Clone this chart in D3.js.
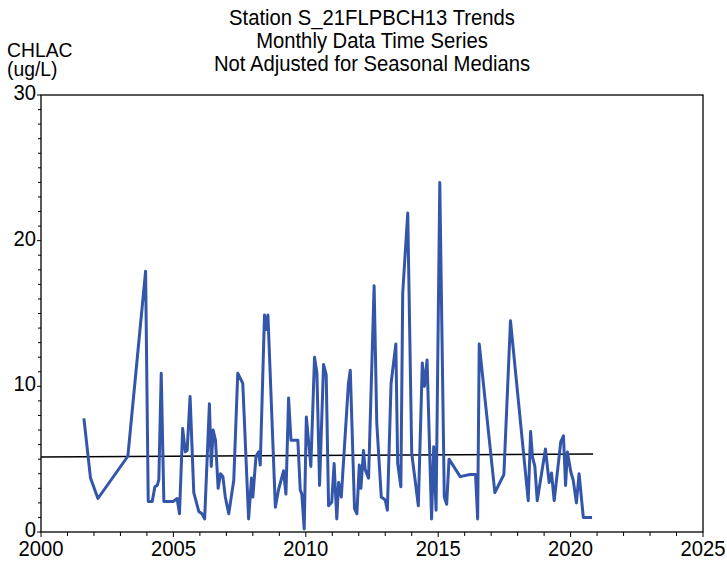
<!DOCTYPE html>
<html>
<head>
<meta charset="utf-8">
<script src="https://cdn.jsdelivr.net/npm/d3@7"></script>
<style>
  body { margin: 0; background: #fff; }
  text { font-family: "Liberation Sans", Arial, sans-serif; fill: #000; }
</style>
</head>
<body>
<div id="chart"></div>
<script>
// sample dates (decimal years) and CHLAC values (ug/L)
const sampleYears = [
  2001.62, 2001.87, 2002.15, 2003.28, 2003.95, 2004.05, 2004.2, 2004.3, 2004.39, 2004.45,
  2004.54, 2004.64, 2004.89, 2005.0, 2005.14, 2005.23, 2005.35, 2005.45, 2005.52, 2005.63,
  2005.77, 2005.96, 2006.08, 2006.18, 2006.36, 2006.43, 2006.5, 2006.59, 2006.69, 2006.78,
  2006.87, 2006.96, 2007.09, 2007.28, 2007.43, 2007.62, 2007.84, 2007.95, 2008.0, 2008.12,
  2008.22, 2008.28, 2008.44, 2008.51, 2008.57, 2008.85, 2008.97, 2009.16, 2009.25, 2009.35,
  2009.44, 2009.7, 2009.79, 2009.85, 2009.94, 2010.02, 2010.19, 2010.33, 2010.42, 2010.52,
  2010.67, 2010.77, 2010.86, 2010.98, 2011.07, 2011.17, 2011.24, 2011.34, 2011.61, 2011.68,
  2011.84, 2011.93, 2012.02, 2012.08, 2012.18, 2012.24, 2012.37, 2012.58, 2012.68, 2012.85,
  2013.0, 2013.08, 2013.22, 2013.4, 2013.47, 2013.59, 2013.66, 2013.85, 2014.0, 2014.25,
  2014.4, 2014.48, 2014.58, 2014.75, 2014.83, 2014.92, 2015.06, 2015.23, 2015.32, 2015.41,
  2015.83, 2016.2, 2016.41, 2016.49, 2016.55, 2017.14, 2017.48, 2017.73, 2018.4, 2018.49,
  2018.56, 2018.65, 2018.74, 2019.05, 2019.19, 2019.28, 2019.38, 2019.63, 2019.73, 2019.81,
  2019.88, 2020.01, 2020.1, 2020.22, 2020.32, 2020.48, 2020.81
];
const chlacValues = [
  7.8, 3.7, 2.3, 5.2, 17.9, 2.1, 2.1, 3.1, 3.2, 3.6,
  10.9, 2.1, 2.1, 2.1, 2.3, 1.25, 7.1, 5.5, 5.6, 9.3,
  2.7, 1.4, 1.25, 0.9, 8.8, 4.5, 7.0, 6.3, 3.0, 4.0,
  3.8, 2.4, 1.25, 3.55, 10.9, 10.2, 0.9, 3.7, 2.4, 5.2,
  5.5, 4.6, 14.9, 13.9, 14.9, 1.7, 2.9, 4.2, 2.6, 9.2,
  6.3, 6.3, 2.9, 2.6, 0.2, 7.9, 4.5, 12.0, 10.9, 3.2,
  11.5, 10.8, 1.8, 2.05, 4.7, 0.9, 3.4, 2.4, 10.2, 11.1,
  1.6, 1.25, 4.6, 3.0, 5.6, 4.3, 3.7, 16.9, 7.5, 2.4,
  2.2, 1.5, 10.2, 12.9, 4.7, 3.1, 16.4, 21.9, 5.4, 1.8,
  11.6, 10.0, 11.8, 0.9, 5.85, 1.5, 24.0, 2.4, 1.9, 5.0,
  3.8, 3.95, 3.95, 0.9, 12.9, 2.7, 3.95, 14.5, 2.15, 6.9,
  5.15, 4.5, 2.15, 5.7, 3.4, 4.05, 2.15, 6.2, 6.6, 3.2,
  5.5, 4.1, 3.55, 2.0, 4.0, 1.0, 1.0
];

// trend line end points
const trendYears = [2000, 2020.85];
const trendValues = [5.15, 5.35];

const titleLines = [
  "Station S_21FLPBCH13 Trends",
  "Monthly Data Time Series",
  "Not Adjusted for Seasonal Medians"
];
const yLabelLines = ["CHLAC", "(ug/L)"];
const xTickYears = [2000, 2005, 2010, 2015, 2020, 2025];
const yTickValues = [0, 10, 20, 30];

const width = 727, height = 562;
const margin = { top: 95, right: 24, bottom: 30, left: 41 };
const innerW = width - margin.left - margin.right;
const innerH = height - margin.top - margin.bottom;

const svg = d3.select("#chart").append("svg")
  .attr("width", width)
  .attr("height", height);

const x = d3.scaleLinear().domain([2000, 2025]).range([margin.left, margin.left + innerW]);
const y = d3.scaleLinear().domain([0, 30]).range([margin.top + innerH, margin.top]);

// plot frame
svg.append("rect")
  .attr("x", margin.left)
  .attr("y", margin.top)
  .attr("width", innerW)
  .attr("height", innerH)
  .attr("fill", "none")
  .attr("stroke", "#000")
  .attr("stroke-width", 1.3);

// x axis: yearly minor ticks, labels every 5 years
const xAxis = svg.append("g").attr("transform", `translate(0,${margin.top + innerH})`);
xAxis.selectAll("line")
  .data(d3.range(2000, 2026))
  .enter()
  .append("line")
  .attr("x1", (d) => x(d))
  .attr("x2", (d) => x(d))
  .attr("y1", 0)
  .attr("y2", (d) => (d % 5 === 0 ? 5 : 4))
  .attr("stroke", "#000")
  .attr("stroke-width", 1);
xAxis.selectAll("text")
  .data(xTickYears)
  .enter()
  .append("text")
  .attr("class", "lbl")
  .attr("x", (d) => x(d))
  .attr("y", 24)
  .attr("text-anchor", "middle")
  .style("font-size", "22px")
  .text((d) => d);

// y axis: unit minor ticks, labels every 10
const yAxis = svg.append("g").attr("transform", `translate(${margin.left},0)`);
yAxis.selectAll("line")
  .data(d3.range(0, 31))
  .enter()
  .append("line")
  .attr("x1", (d) => (d % 10 === 0 ? -4 : -3))
  .attr("x2", 0)
  .attr("y1", (d) => y(d))
  .attr("y2", (d) => y(d))
  .attr("stroke", "#000")
  .attr("stroke-width", 1);
yAxis.selectAll("text")
  .data(yTickValues)
  .enter()
  .append("text")
  .attr("class", "lbl")
  .attr("x", -5)
  .attr("y", (d) => y(d) + 5)
  .attr("text-anchor", "end")
  .style("font-size", "22px")
  .text((d) => d);

// trend line
svg.append("line")
  .attr("x1", x(trendYears[0]))
  .attr("y1", y(trendValues[0]))
  .attr("x2", x(trendYears[1]))
  .attr("y2", y(trendValues[1]))
  .attr("stroke", "#000")
  .attr("stroke-width", 1.5);

// data series
const line = d3.line()
  .x((d, i) => x(sampleYears[i]))
  .y((d) => y(d));
svg.append("path")
  .datum(chlacValues)
  .attr("d", line)
  .attr("fill", "none")
  .attr("stroke", "#3355aa")
  .attr("stroke-width", 3)
  .attr("stroke-linejoin", "round");

// titles
svg.selectAll("text.title")
  .data(titleLines)
  .enter()
  .append("text")
  .attr("class", "lbl title")
  .attr("x", margin.left + innerW / 2)
  .attr("y", (d, i) => 25 + i * 23)
  .attr("text-anchor", "middle")
  .style("font-size", "22px")
  .text((d) => d);

svg.selectAll("text.ylab")
  .data(yLabelLines)
  .enter()
  .append("text")
  .attr("class", "lbl ylab")
  .attr("x", 7)
  .attr("y", (d, i) => 57 + i * 19)
  .style("font-size", "21px")
  .text((d) => d);

// narrow the glyphs a bit, the original font is condensed
svg.selectAll("text.lbl").each(function () {
  const len = this.getComputedTextLength();
  d3.select(this)
    .attr("textLength", len * 0.92)
    .attr("lengthAdjust", "spacingAndGlyphs");
});
</script>
</body>
</html>
